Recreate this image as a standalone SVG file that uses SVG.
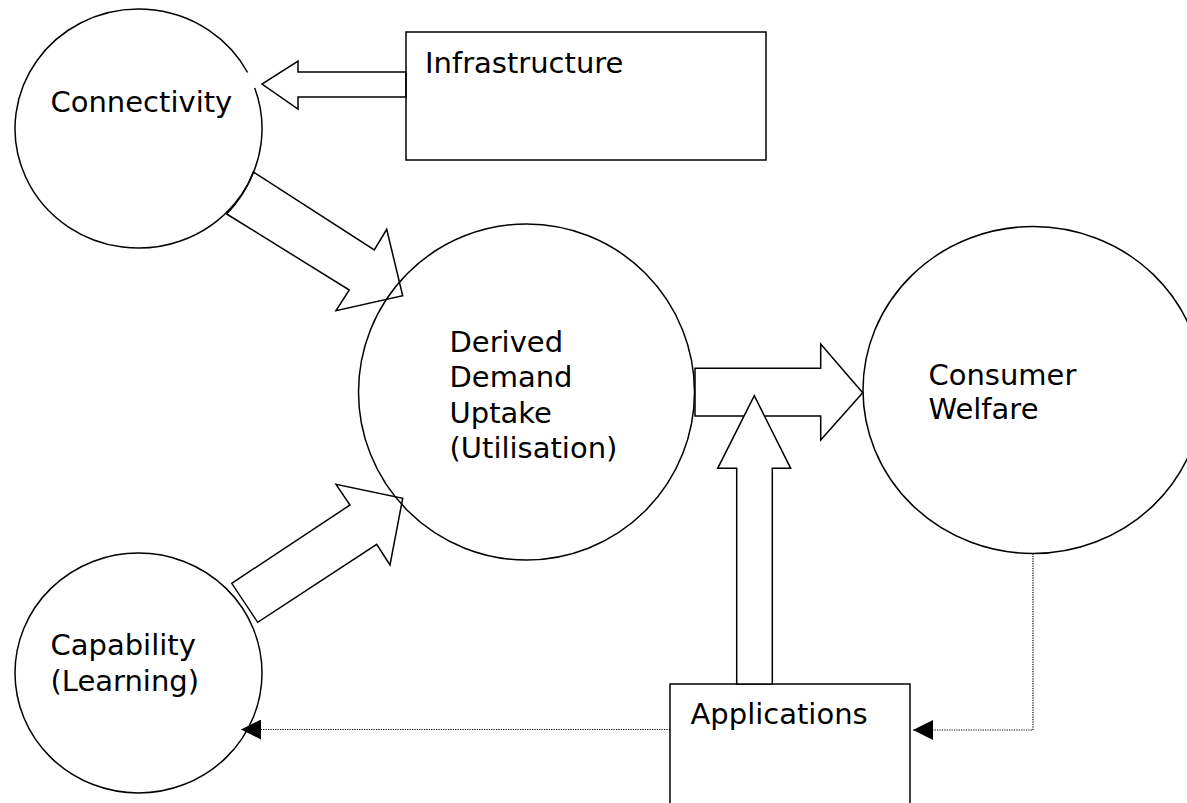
<svg xmlns="http://www.w3.org/2000/svg" width="1187" height="803" viewBox="0 0 1187 803">
  <style>
    .shape { fill: none; stroke: #000; stroke-width: 1.5; }
    .arrow { fill: none; stroke: #000; stroke-width: 1.5; stroke-linejoin: miter; }
    .arrow-filled { fill: #fff; stroke: #000; stroke-width: 1.5; }
    .dotted { fill: none; stroke: #000; stroke-width: 1.2; stroke-dasharray: 1.2 1.2; }
    .label { font-family: "DejaVu Sans", Verdana, "Liberation Sans", sans-serif; font-size: 29px; fill: #000; }
  </style>
  <defs>
    <marker id="tri" markerUnits="userSpaceOnUse" markerWidth="20" markerHeight="20" refX="20" refY="10" orient="auto" viewBox="0 0 20 20">
      <path d="M0,0 L20,10 L0,20 z" fill="#000"/>
    </marker>
  </defs>
  <rect x="0" y="0" width="1187" height="803" fill="#fff"/>

  <g id="connectivity">
    <path class="shape" d="M254.7,88 A123.5,119.5 0 1 1 247.6,72.5"/>
    <text class="label" x="50.5" y="112">Connectivity</text>
  </g>

  <g id="infrastructure">
    <rect class="shape" x="406" y="32" width="360" height="128"/>
    <text class="label" x="425" y="73">Infrastructure</text>
  </g>

  <g id="derived-demand">
    <circle class="shape" cx="526.5" cy="392" r="168"/>
    <text class="label" x="449.5" y="352">Derived</text>
    <text class="label" x="449.5" y="387">Demand</text>
    <text class="label" x="449.5" y="422.7">Uptake</text>
    <text class="label" x="449.5" y="458">(Utilisation)</text>
  </g>

  <g id="consumer-welfare">
    <ellipse class="shape" cx="1033" cy="390" rx="170" ry="163.5"/>
    <text class="label" x="928.5" y="384.5">Consumer</text>
    <text class="label" x="928.5" y="419">Welfare</text>
  </g>

  <g id="capability">
    <ellipse class="shape" cx="138.5" cy="673" rx="123.5" ry="120"/>
    <text class="label" x="50.5" y="655">Capability</text>
    <text class="label" x="50.5" y="690.5">(Learning)</text>
  </g>

  <g id="applications">
    <rect class="shape" x="670" y="684" width="240" height="150"/>
    <text class="label" x="690.5" y="724">Applications</text>
  </g>

  <g id="connectors">
    <!-- Infrastructure -> Connectivity -->
    <polygon class="arrow" points="406,72 298,72 298,61 262,84 298,109 298,97 406,97"/>
    <!-- Connectivity -> Derived Demand -->
    <path class="arrow" d="M253.3,172 L374.3,250 L386.7,229.3 L402.7,295.7 L336,310.7 L349.3,290 L226.7,214 A123.5,119.5 0 0 0 253.3,172 Z"/>
    <!-- Capability -> Derived Demand -->
    <polygon class="arrow" points="231.7,583.3 350,505 336,484.3 402.7,498.3 390,565 376.7,544.3 257.7,622.3"/>
    <!-- Derived Demand -> Consumer Welfare -->
    <polygon class="arrow" points="695,368.3 820.7,368.3 820.7,344 862.7,392.7 820.7,440 820.7,416 695,416"/>
    <!-- Applications -> up -->
    <polygon class="arrow-filled" points="736.7,684 736.7,468.3 717.7,468.3 754.3,395.7 790.7,468.3 772.3,468.3 772.3,684"/>
    <!-- Consumer Welfare -> Applications (dotted) -->
    <polyline class="dotted" points="1033,553.5 1033,730 913,730" marker-end="url(#tri)"/>
    <!-- Applications -> Capability (dotted) -->
    <polyline class="dotted" points="670,729.5 241,729.5" marker-end="url(#tri)"/>
  </g>
</svg>
